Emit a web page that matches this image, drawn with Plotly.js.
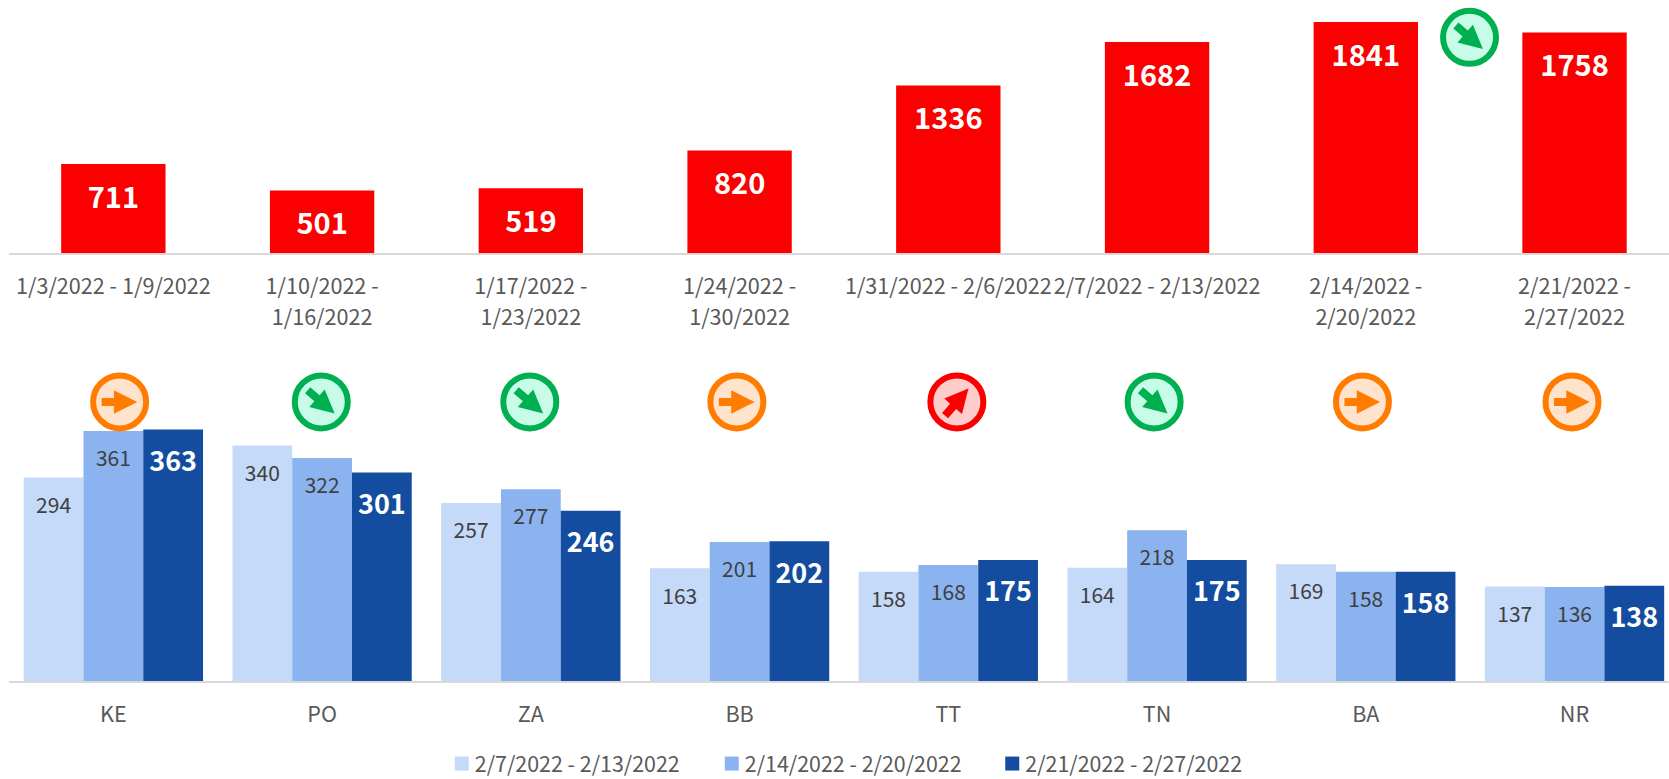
<!DOCTYPE html>
<html><head><meta charset="utf-8">
<script src="https://cdn.plot.ly/plotly-3.0.1.min.js"></script>
<style>html,body{margin:0;padding:0;background:#fff;overflow:hidden}</style></head>
<body><div id="chart" style="width:1669px;height:779px"></div>
<script>
const weeks = ["1/3/2022 - 1/9/2022","1/10/2022 -<br>1/16/2022","1/17/2022 -<br>1/23/2022","1/24/2022 -<br>1/30/2022","1/31/2022 - 2/6/2022","2/7/2022 - 2/13/2022","2/14/2022 -<br>2/20/2022","2/21/2022 -<br>2/27/2022"];
const totals = [711,501,519,820,1336,1682,1841,1758];
const regions = ["KE","PO","ZA","BB","TT","TN","BA","NR"];
const seriesNames = ["2/7/2022 - 2/13/2022","2/14/2022 - 2/20/2022","2/21/2022 - 2/27/2022"];
const week1 = [294,340,257,163,158,164,169,137];
const week2 = [361,322,277,201,168,218,158,136];
const week3 = [363,301,246,202,175,175,158,138];
const colors = ["#C5D9F8","#8AB3F0","#144CA0"];
const iconX = [0.03,0.996,1.995,2.987,4.041,4.986,5.984,6.988];
const iconKinds = ["flat","down","down","flat","up","down","flat","flat"];
const topIcon = {x:6.497, y:1720, kind:"down"};
const iconY = 402;

const styles = {
  flat:{line:"#FF7C00",fill:"#FFE3CC",angle:0},
  down:{line:"#00B050",fill:"#C6FCE8",angle:41},
  up:{line:"#FA0000",fill:"#FFCCCC",angle:-49}
};
const arrowOutline = [[-18,-4],[-5.7,-4],[-5.7,-11.7],[17.7,0],[-5.7,11.7],[-5.7,4],[-18,4]];
function arrowPath(angle){
  const a = angle*Math.PI/180;
  return "M"+arrowOutline.map(([x,y])=>{
    const rx = x*Math.cos(a)-y*Math.sin(a), ry = x*Math.sin(a)+y*Math.cos(a);
    return rx.toFixed(1)+","+(-ry).toFixed(1);
  }).join("L")+"Z";
}
const arrowShape = (x,y,yref,kind)=>({type:"path",xref:yref==="y"?"x":"x2",yref,xsizemode:"pixel",ysizemode:"pixel",xanchor:x,yanchor:y,path:arrowPath(styles[kind].angle),fillcolor:styles[kind].line,line:{width:0}});

const pos = regions.map((_,i)=>i);
const barWidth = (1-0.141)/3;
const pxTop = 0.1257, pxBottom = 0.694;
const font = "'Noto Sans CJK SC','Noto Sans CJK JP',sans-serif";

const traces = [];
traces.push({type:"bar",x:pos,y:totals,width:0.5,marker:{color:"#FA0000"},xaxis:"x",yaxis:"y",showlegend:false,hoverinfo:"skip"});
traces.push({type:"scatter",mode:"text",x:pos,y:totals.map(v=>v-36.5/pxTop),text:totals.map(String),textposition:"middle center",textfont:{family:font,size:29,color:"#fff",weight:700},xaxis:"x",yaxis:"y",showlegend:false,hoverinfo:"skip"});
[week1,week2,week3].forEach((vals,k)=>{
  traces.push({type:"bar",name:seriesNames[k],x:pos,y:vals,marker:{color:colors[k]},xaxis:"x2",yaxis:"y2",hoverinfo:"skip"});
});
[week1,week2,week3].forEach((vals,k)=>{
  const bold = k===2;
  traces.push({type:"scatter",mode:"text",x:pos.map(i=>i+(k-1)*barWidth),y:vals.map(v=>v-(bold?34.5:30)/pxBottom),text:vals.map(String),textposition:"middle center",
    textfont:bold?{family:font,size:27,color:"#fff",weight:700}:{family:font,size:21,color:"#404040"},xaxis:"x2",yaxis:"y2",showlegend:false,hoverinfo:"skip",cliponaxis:false});
});
traces.push({type:"scatter",mode:"markers",x:[topIcon.x],y:[topIcon.y],marker:{size:53,color:styles[topIcon.kind].fill,line:{width:6,color:styles[topIcon.kind].line}},xaxis:"x",yaxis:"y",showlegend:false,hoverinfo:"skip",cliponaxis:false});
traces.push({type:"scatter",mode:"markers",x:iconX,y:iconX.map(()=>(681.5-iconY)/pxBottom),marker:{size:53,color:iconKinds.map(k=>styles[k].fill),line:{width:6,color:iconKinds.map(k=>styles[k].line)}},xaxis:"x2",yaxis:"y2",showlegend:false,hoverinfo:"skip",cliponaxis:false});

const shapes = iconX.map((x,i)=>arrowShape(x,(681.5-iconY)/pxBottom,"y2",iconKinds[i]));
shapes.push(arrowShape(topIcon.x,topIcon.y,"y",topIcon.kind));

const xBase = {range:[-0.5,7.4526],showgrid:false,zeroline:false,showline:true,linecolor:"#D9D9D9",linewidth:2,ticks:"",tickmode:"array",tickvals:pos,tickangle:0,tickfont:{family:font,size:21.6,color:"#595959"}};
const yBase = {visible:false,showgrid:false,zeroline:false};
const layout = {
  width:1669,height:779,margin:{l:8.5,r:0,t:0,b:0,pad:0,autoexpand:false},paper_bgcolor:"#fff",plot_bgcolor:"rgba(0,0,0,0)",
  barmode:"group",bargap:0.141,bargroupgap:0,
  xaxis:{...xBase,ticktext:weeks,anchor:"y",ticklabelstandoff:13},
  yaxis:{...yBase,domain:[0.6746,1],range:[0,2016.7]},
  xaxis2:{...xBase,ticktext:regions,anchor:"y2",ticklabelstandoff:13},
  yaxis2:{...yBase,domain:[0.1252,0.5635],range:[0,492]},
  shapes,
  showlegend:true,
  legend:{orientation:"h",x:0.2607,xanchor:"left",y:0.0197,yanchor:"middle",font:{family:font,size:21.4,color:"#595959"},traceorder:"normal",itemwidth:30,entrywidth:225,entrywidthmode:"pixels",bgcolor:"rgba(0,0,0,0)"},
  font:{family:font}
};
Plotly.newPlot("chart",traces,layout,{displayModeBar:false,staticPlot:true}).then(()=>{
  document.querySelectorAll(".xtick text tspan.line").forEach(t=>{
    if(t.previousElementSibling) t.setAttribute("dy","31px");
  });
  document.querySelectorAll(".legend .legendpoints path").forEach(p=>p.setAttribute("d","M7,7H-7V-7H7Z"));
  document.querySelectorAll(".legend text.legendtext").forEach(t=>{
    t.setAttribute("x",String(parseFloat(t.getAttribute("x"))-7));
  });
  document.querySelectorAll(".legend .scrollbox").forEach(s=>s.removeAttribute("clip-path"));
  const items = document.querySelectorAll(".legend .traces");
  const last = items[items.length-1];
  const m = /translate\(([-\d.]+)[ ,]+([-\d.]+)\)/.exec(last.getAttribute("transform"));
  if(m) last.setAttribute("transform","translate("+(parseFloat(m[1])+10.5)+","+m[2]+")");
});
</script></body></html>
